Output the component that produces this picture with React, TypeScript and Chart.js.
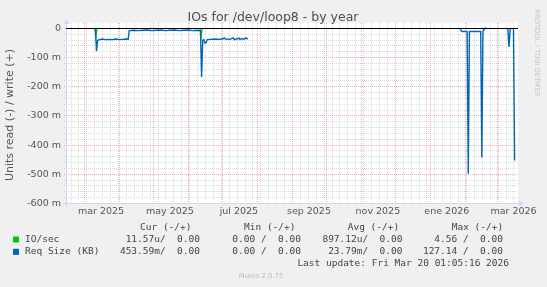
import React, { useEffect, useRef } from 'react';
import { Chart, registerables } from 'chart.js';
Chart.register(...registerables);

// Day offsets from the left edge of the graph (Feb 13 2025) to the right edge (Mar 20 2026 = day 400)
// Values in milli-units, read shown negative
const blueDays: number[] = [
  26, 27, 28, 30, 32, 35, 38, 41, 44, 47, 50, 53, 55,
  56, 60, 64, 68, 72, 76, 80, 84, 88, 92, 96, 100, 104, 108, 112, 116, 119,
  120, 121, 122, 123, 124, 125, 128, 132, 136, 139, 140, 141, 145, 148, 149, 151, 153, 154, 156, 157, 159, 160, 161,
  200,
  348, 349, 350, 351, 355, 356, 357, 360, 364, 367, 368, 369, 370, 371, 372,
  380,
  391, 392, 393, 394,
  395,
  396, 397,
];
const blueVals: (number | null)[] = [
  0, -79, -42, -40, -38, -40, -39, -40, -38, -40, -39, -38, -39,
  -9, -8, -9, -8, -7, -9, -8, -7, -9, -8, -7, -9, -8, -7, -9, -8, -9,
  -168, -42, -40, -52, -50, -40, -39, -38, -39, -37, -34, -38, -39, -34, -40, -38, -35, -40, -36, -39, -34, -37, -36,
  null,
  0, -4, -11, -12, -12, -500, -12, -12, -12, -12, -444, -12, -5, -1, 0,
  null,
  0, -65, -8, 0,
  null,
  0, -454,
];
const greenDays: number[] = [25.5, 26.5, 27.5, 60, 118.5, 119.5, 120.5];
const greenVals: (number | null)[] = [0, -26, 0, null, 0, -30, 0];

const yMajorTicks = [0, -100, -200, -300, -400, -500, -600];
const yTickLabels = ['0', '-100 m', '-200 m', '-300 m', '-400 m', '-500 m', '-600 m'];
const monthStartDays = [16, 47, 77, 108, 138, 169, 200, 230, 261, 291, 322, 353, 381];
const xLabelDays = [31, 92, 153, 215, 276, 337, 396];
const xTickLabels = ['mar 2025', 'may 2025', 'jul 2025', 'sep 2025', 'nov 2025', 'ene 2026', 'mar 2026'];

const legendHeaders = ['Cur (-/+)', 'Min (-/+)', 'Avg (-/+)', 'Max (-/+)'];
const seriesNames = ['IO/sec', 'Req Size (KB)'];
const seriesColors = ['#00CC00', '#0066B3'];
const curVals = ['11.57u/  0.00', '453.59m/  0.00'];
const minVals = ['0.00 /  0.00', '0.00 /  0.00'];
const avgVals = ['897.12u/  0.00', '23.79m/  0.00'];
const maxVals = ['4.56 /  0.00', '127.14 /  0.00'];

export default function App() {
  const ref = useRef<HTMLCanvasElement>(null);
  useEffect(() => {
    const canvas = ref.current!;
    const mk = (days: number[], vals: (number | null)[]) => days.map((d, i) => ({ x: d, y: vals[i] }));

    const line = (ctx: CanvasRenderingContext2D, x1: number, y1: number, x2: number, y2: number) => {
      ctx.beginPath();
      ctx.moveTo(x1, y1);
      ctx.lineTo(x2, y2);
      ctx.stroke();
    };

    const plugin = {
      id: 'munin',
      beforeDraw(chart: any) {
        const { ctx, chartArea: a } = chart;
        const xs = chart.scales.x;
        const ys = chart.scales.y;
        ctx.save();
        ctx.fillStyle = '#F0F0F0';
        ctx.fillRect(0, 0, chart.width, chart.height);
        ctx.fillStyle = '#FFFFFF';
        ctx.fillRect(a.left, a.top, a.right - a.left, a.bottom - a.top);

        ctx.lineWidth = 1;
        ctx.setLineDash([1, 1]);
        // minor grid
        ctx.strokeStyle = 'rgba(140,140,140,0.32)';
        for (let v = -580; v < 0; v += 20) {
          if (v % 100 === 0) continue;
          const y = Math.round(ys.getPixelForValue(v)) + 0.5;
          line(ctx, a.left - 2, y, a.right, y);
        }
        for (let d = 4; d <= 400; d += 7) {
          if (monthStartDays.includes(d)) continue;
          const x = Math.round(xs.getPixelForValue(d)) + 0.5;
          line(ctx, x, a.top, x, a.bottom + 2);
        }
        // major grid
        ctx.strokeStyle = 'rgba(230,60,60,0.42)';
        yMajorTicks.forEach((v) => {
          const y = Math.round(ys.getPixelForValue(v)) + 0.5;
          line(ctx, a.left - 2, y, a.right, y);
        });
        monthStartDays.forEach((d) => {
          const x = Math.round(xs.getPixelForValue(d)) + 0.5;
          line(ctx, x, a.top, x, a.bottom + 2);
        });
        ctx.setLineDash([]);

        // axes
        ctx.strokeStyle = '#CFD6F8';
        ctx.fillStyle = '#CFD6F8';
        const ax = a.left + 0.5;
        const ay = a.bottom + 0.5;
        line(ctx, ax, a.bottom + 3, ax, a.top - 1);
        ctx.beginPath();
        ctx.moveTo(ax - 3, a.top + 1);
        ctx.lineTo(ax + 3, a.top + 1);
        ctx.lineTo(ax, a.top - 4);
        ctx.closePath();
        ctx.fill();
        line(ctx, a.left - 3, ay, a.right + 2, ay);
        ctx.beginPath();
        ctx.moveTo(a.right + 1, ay - 3);
        ctx.lineTo(a.right + 1, ay + 3);
        ctx.lineTo(a.right + 6, ay);
        ctx.closePath();
        ctx.fill();

        // tick labels
        ctx.fillStyle = '#555555';
        ctx.font = "9.5px 'DejaVu Sans'";
        ctx.textAlign = 'right';
        ctx.textBaseline = 'middle';
        yMajorTicks.forEach((v, i) => {
          ctx.fillText(yTickLabels[i], a.left - 5, ys.getPixelForValue(v) + 0.5);
        });
        ctx.textAlign = 'center';
        xLabelDays.forEach((d, i) => {
          ctx.fillText(xTickLabels[i], xs.getPixelForValue(d), 212);
        });
        ctx.restore();
      },
      afterDatasetsDraw(chart: any) {
        const { ctx, chartArea: a } = chart;
        const ys = chart.scales.y;
        ctx.save();
        ctx.strokeStyle = '#000000';
        ctx.lineWidth = 1;
        const y0 = Math.round(ys.getPixelForValue(0)) + 0.5;
        line(ctx, a.left, y0, a.right, y0);

        // title
        ctx.fillStyle = '#4d4d4d';
        ctx.font = "12.5px 'DejaVu Sans'";
        ctx.textAlign = 'center';
        ctx.textBaseline = 'middle';
        ctx.fillText('IOs for /dev/loop8 - by year', 273, 18);

        // y axis title
        ctx.save();
        ctx.translate(10.5, 115);
        ctx.rotate(-Math.PI / 2);
        ctx.font = "11px 'DejaVu Sans'";
        ctx.fillStyle = '#555555';
        ctx.fillText('Units read (-) / write (+)', 0, 0);
        ctx.restore();

        // watermark right
        ctx.save();
        ctx.translate(537, 53);
        ctx.rotate(Math.PI / 2);
        ctx.font = "6.8px 'DejaVu Sans'";
        ctx.fillStyle = '#C4C4C4';
        ctx.fillText('RRDTOOL / TOBI OETIKER', 0, 0);
        ctx.restore();

        // legend
        ctx.font = "9.5px 'DejaVu Sans Mono'";
        ctx.fillStyle = '#444444';
        ctx.textAlign = 'left';
        const hx = [140, 244, 347.7, 451.7];
        legendHeaders.forEach((h, i) => ctx.fillText(h, hx[i], 227.5));
        const rowY = [239.5, 251.8];
        const rx = [200, 301, 402.5, 503];
        seriesNames.forEach((n, r) => {
          ctx.fillStyle = seriesColors[r];
          ctx.fillRect(13, rowY[r] - 3, 6, 6);
          ctx.fillStyle = '#444444';
          ctx.textAlign = 'left';
          ctx.fillText(n, 25, rowY[r]);
          ctx.textAlign = 'right';
          [curVals, minVals, avgVals, maxVals].forEach((arr, c) => ctx.fillText(arr[r], rx[c], rowY[r]));
        });
        ctx.textAlign = 'right';
        ctx.fillText('Last update: Fri Mar 20 01:05:16 2026', 509, 263.5);

        ctx.textAlign = 'center';
        ctx.font = "6.8px 'DejaVu Sans'";
        ctx.fillStyle = '#BBBBBB';
        ctx.fillText('Munin 2.0.75', 261, 276);
        ctx.restore();
      },
    };

    const chart = new Chart(canvas, {
      type: 'line',
      data: {
        datasets: [
          {
            label: 'Req Size (KB)',
            data: mk(blueDays, blueVals) as any,
            borderColor: '#0066B3',
            borderWidth: 1.4,
            pointRadius: 0,
            tension: 0,
            spanGaps: false,
            order: 0,
          },
          {
            label: 'IO/sec',
            data: mk(greenDays, greenVals) as any,
            borderColor: '#00CC00',
            borderWidth: 1.4,
            pointRadius: 0,
            tension: 0,
            spanGaps: false,
            order: 1,
          },
        ],
      },
      options: {
        animation: false,
        responsive: false,
        devicePixelRatio: 1,
        layout: { padding: { left: 66, right: 29, top: 23, bottom: 84 } },
        plugins: { legend: { display: false }, tooltip: { enabled: false }, title: { display: false } },
        scales: {
          x: { type: 'linear', min: 0, max: 400, display: false },
          y: { type: 'linear', min: -600, max: 17, display: false },
        },
      },
      plugins: [plugin],
    });
    return () => chart.destroy();
  }, []);

  return (
    <div style={{ position: 'fixed', left: 0, top: 0, width: 547, height: 287 }}>
      <canvas ref={ref} width={547} height={287} style={{ display: 'block' }} />
    </div>
  );
}
